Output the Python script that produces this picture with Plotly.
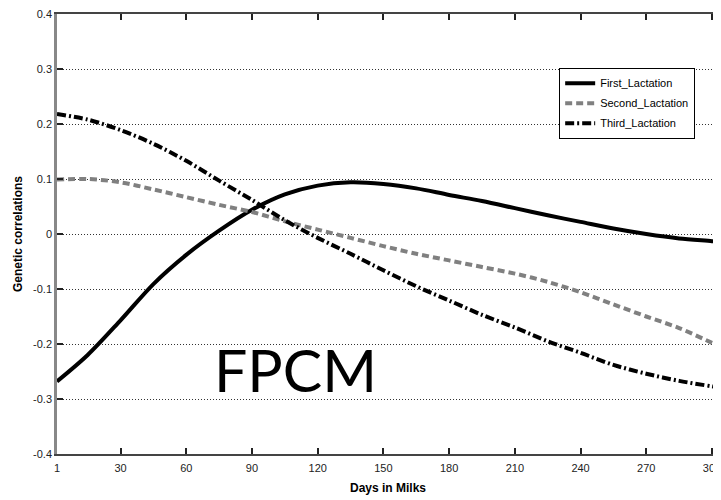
import plotly.graph_objects as go

days = [1, 15, 30, 45, 60, 75, 90, 105, 120, 135, 150, 165, 180, 195, 210, 225, 240, 255, 270, 285, 300, 305]
first_lactation = [-0.268, -0.220, -0.157, -0.091, -0.038, 0.006, 0.044, 0.072, 0.088, 0.094, 0.091, 0.083,
                   0.071, 0.060, 0.047, 0.034, 0.022, 0.010, 0.000, -0.008, -0.013, -0.015]
second_lactation = [0.099, 0.100, 0.094, 0.081, 0.067, 0.053, 0.040, 0.023, 0.008, -0.007, -0.022, -0.036,
                    -0.048, -0.060, -0.072, -0.087, -0.106, -0.128, -0.150, -0.171, -0.198, -0.207]
third_lactation = [0.218, 0.208, 0.189, 0.164, 0.133, 0.097, 0.062, 0.025, -0.007, -0.036, -0.066, -0.095,
                   -0.121, -0.147, -0.170, -0.195, -0.216, -0.238, -0.254, -0.267, -0.277, -0.280]

x_ticks = [1, 30, 60, 90, 120, 150, 180, 210, 240, 270, 300]
y_ticks = [-0.4, -0.3, -0.2, -0.1, 0, 0.1, 0.2, 0.3, 0.4]
y_tick_text = ["-0.4", "-0.3", "-0.2", "-0.1", "0", "0.1", "0.2", "0.3", "0.4"]

fig = go.Figure()
fig.add_trace(go.Scatter(x=days, y=first_lactation, mode="lines", name="First_Lactation", legendgroup="a",
                         line=dict(color="black", width=4, shape="spline", smoothing=0.9)))
fig.add_trace(go.Scatter(x=days, y=second_lactation, mode="lines", name="Second_Lactation", legendgroup="b",
                         line=dict(color="#808080", width=4, dash="7px,4px", shape="spline", smoothing=0.9)))
fig.add_trace(go.Scatter(x=days, y=third_lactation, mode="lines", name="Third_Lactation", legendgroup="c",
                         line=dict(color="black", width=4, dash="9px,3px,2px,3px", shape="spline", smoothing=0.9)))

fig.add_annotation(x=110.0, y=-0.246, xref="x", yref="y", text="FPCM", showarrow=False,
                   font=dict(family="Lato", size=59, color="black"))

fig.update_layout(
    width=713, height=492,
    margin=dict(l=49, r=0, t=3, b=46),
    paper_bgcolor="white", plot_bgcolor="white",
    font=dict(family="Liberation Sans, Arial", size=11, color="#222"),
    showlegend=True,
    legend=dict(x=0.964, y=0.878, xanchor="right", yanchor="top",
                bgcolor="white", bordercolor="black", borderwidth=1,
                font=dict(family="Liberation Sans, Arial", size=11, color="black"),
                tracegroupgap=1, itemwidth=30, entrywidth=114, entrywidthmode="pixels"),
    xaxis=dict(range=[1, 303.2], tickvals=x_ticks, ticks="inside", ticklen=6, tickwidth=1.5,
               tickcolor="#222", showline=True, linecolor="#444", linewidth=2, mirror="ticks",
               showgrid=False, zeroline=False, ticklabelstandoff=3, ticklabeloverflow="allow",
               title=dict(text="<b>Days in Milks</b>", font=dict(size=12, color="black"), standoff=10)),
    yaxis=dict(range=[-0.4, 0.4], tickvals=y_ticks, ticktext=y_tick_text, ticks="inside", ticklen=6,
               tickwidth=1.5, tickcolor="#222", showline=True, linecolor="#888", linewidth=2.5,
               mirror=False, showgrid=True, gridcolor="#333", gridwidth=1, griddash="1px,2px",
               zeroline=False, ticklabeloverflow="allow",
               title=dict(text="<b>Genetic correlations</b>", font=dict(size=12, color="black"), standoff=8)),
)

fig.write_html("out.html")
